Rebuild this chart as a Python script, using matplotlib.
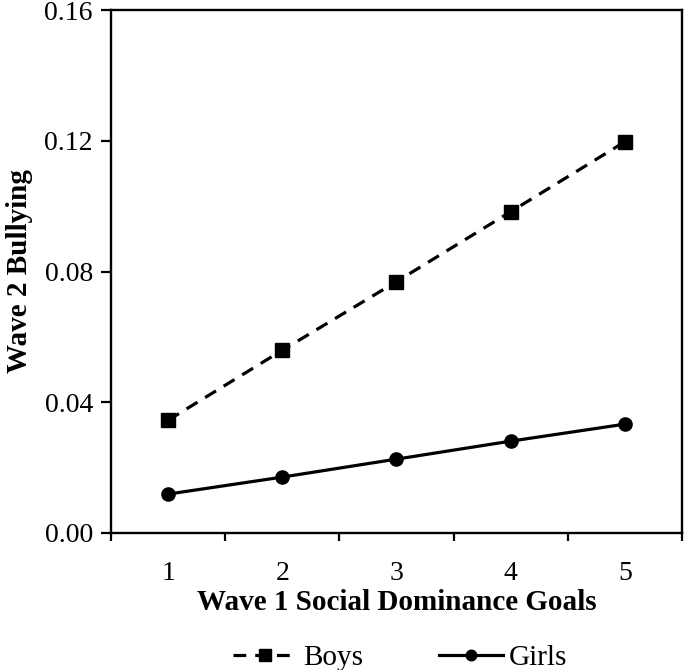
import numpy as np
import matplotlib

matplotlib.use("Agg")
import matplotlib.pyplot as plt
from matplotlib.ticker import FixedLocator, NullFormatter

# data
goals = [1, 2, 3, 4, 5]
boys = [0.0345, 0.0559, 0.0769, 0.0983, 0.1197]
girls = [0.0119, 0.0171, 0.0226, 0.0281, 0.0333]
yticks = [0.00, 0.04, 0.08, 0.12, 0.16]

plt.rcParams["font.family"] = ["Liberation Serif", "DejaVu Serif"]

fig = plt.figure(figsize=(6.85, 6.70), dpi=100)
ax = fig.add_axes([0.162, 0.2045, 0.8336, 0.7805])

ax.plot(goals, boys, color="black", linestyle=(0, (4, 2.8)), linewidth=2.3,
        marker="s", markersize=10, label="Boys")
ax.plot(goals, girls, color="black", linestyle="-", linewidth=2.3,
        marker="o", markersize=9.5, label="Girls")

ax.set_xlim(0.5, 5.5)
ax.set_ylim(0, 0.16)
ax.xaxis.set_major_locator(FixedLocator([0.5, 1.5, 2.5, 3.5, 4.5, 5.5]))
ax.xaxis.set_major_formatter(NullFormatter())
ax.xaxis.set_minor_locator(FixedLocator(goals))
ax.set_xticklabels([str(g) for g in goals], minor=True)
ax.tick_params(axis="x", which="major", direction="out", length=6, width=1.6)
ax.tick_params(axis="x", which="minor", length=0, labelsize=20, pad=20)
ax.set_yticks(yticks)
ax.set_yticklabels([f"{v:.2f}" for v in yticks])
ax.tick_params(axis="y", direction="out", length=7, width=1.6, labelsize=20,
               pad=6)
for s in ax.spines.values():
    s.set_linewidth(1.7)

ax.set_xlabel("Wave 1 Social Dominance Goals", fontsize=21, fontweight="bold",
              labelpad=2)
ax.set_ylabel("Wave 2 Bullying", fontsize=21, fontweight="bold", labelpad=8)

fig.legend(loc="center", bbox_to_anchor=(0.584, 0.018), ncol=2, frameon=False,
           fontsize=21, columnspacing=2.6, handlelength=2.2, handletextpad=0.2,
           markerscale=0.8)

fig.savefig("out.png", facecolor="white")
